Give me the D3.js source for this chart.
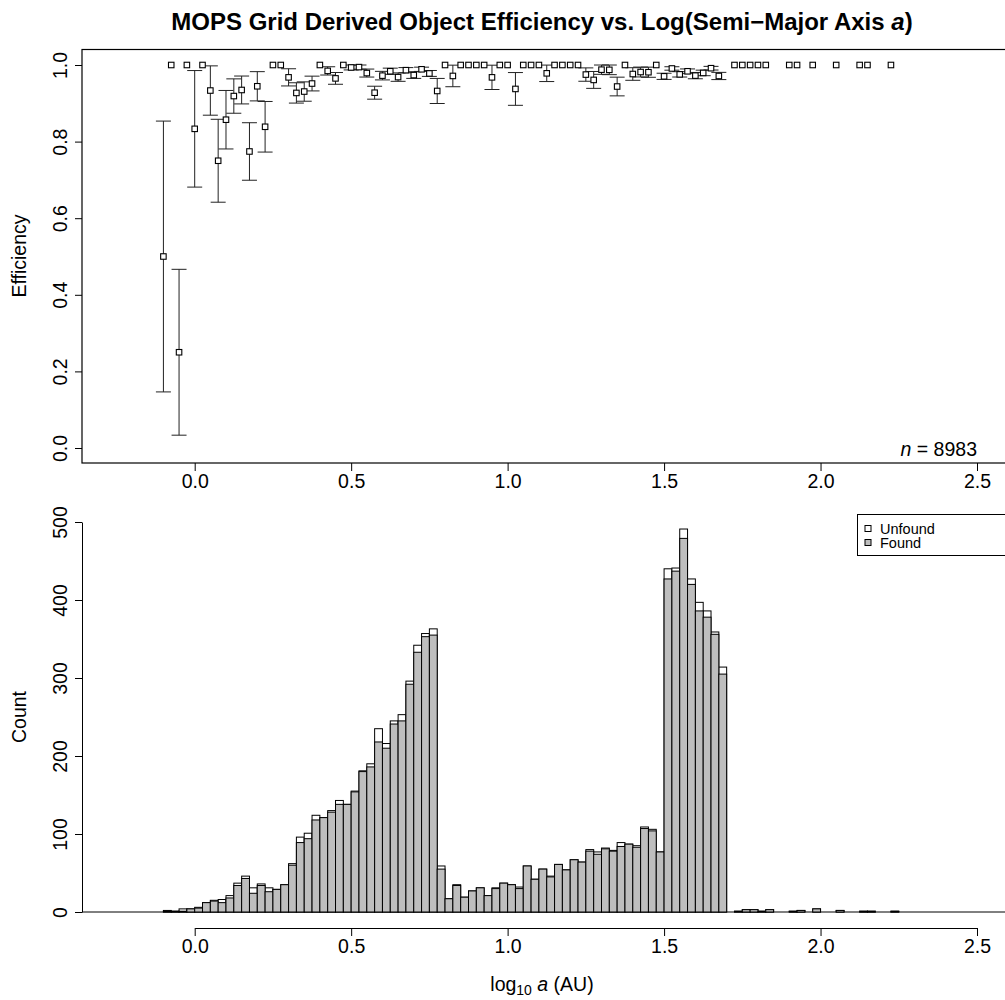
<!DOCTYPE html>
<html>
<head>
<meta charset="utf-8">
<script src="https://d3js.org/d3.v7.min.js"></script>
<style>
  body { margin: 0; background: #fff; }
  svg text { font-family: "Liberation Sans", Arial, Helvetica, sans-serif; fill: #000; }
</style>
</head>
<body>
<div id="chart"></div>
<script>
// histogram bins: log10 a from -0.1 in steps of 0.025
const binStart = -0.1;
const binWidth = 0.025;

// objects per bin (all)
const totalCounts = [2, 1, 4, 4, 6, 12, 15, 16, 21, 37, 46, 31, 36, 31, 29, 35, 62, 96, 101, 124, 121, 130, 143, 138, 155,
    181, 190, 235, 216, 245, 253, 296, 342, 357, 363, 59,
    17, 35, 19, 27, 31, 21, 31, 37, 35, 32, 59, 42, 55, 46, 61, 54, 67, 64, 80, 77, 82, 79, 89, 87, 85, 109, 106, 77,
    440, 441, 491, 427, 397, 386, 359, 314,
    0, 1, 3, 3, 1, 3, 0, 0, 1, 2, 0, 4, 0, 0, 2, 0, 0, 1, 1, 0, 0, 1];

// found objects per bin
const foundCounts = [1, 1, 1, 4, 5, 12, 14, 12, 18, 34, 43, 24, 34, 26, 29, 35, 60, 89, 94, 118, 121, 128, 138, 138, 154,
    180, 186, 218, 210, 241, 245, 292, 333, 353, 355, 55,
    17, 34, 19, 27, 31, 21, 30, 37, 35, 30, 59, 42, 55, 45, 61, 54, 67, 64, 78, 74, 81, 78, 84, 87, 83, 107, 104, 77,
    427, 437, 479, 420, 386, 378, 356, 305,
    0, 1, 3, 3, 1, 3, 0, 0, 1, 2, 0, 4, 0, 0, 2, 0, 0, 1, 1, 0, 0, 1];

const xTicks = [0, 0.5, 1.0, 1.5, 2.0, 2.5];
const effTicks = [0, 0.2, 0.4, 0.6, 0.8, 1.0];
const countTicks = [0, 100, 200, 300, 400, 500];
const legendLabels = ["Unfound", "Found"];
const nTotal = 8983;

const W = 1005, H = 1000;
const svg = d3.select("#chart").append("svg")
    .attr("width", W)
    .attr("height", H);

const x = d3.scaleLinear().domain([0, 2.5]).range([194.7, 977]);
const yEff = d3.scaleLinear().domain([0, 1]).range([448, 65]);
const yCnt = d3.scaleLinear().domain([0, 500]).range([912, 522]);

const bins = totalCounts.map((n, i) => ({
    x0: binStart + i * binWidth,
    x1: binStart + (i + 1) * binWidth,
    n: n,
    found: foundCounts[i]
}));

const fontTick = "19.5px";

// ---------- top panel: efficiency ----------
svg.append("rect")
    .attr("x", 82).attr("y", 49.5)
    .attr("width", 1000).attr("height", 413.5)
    .attr("fill", "none").attr("stroke", "#000").attr("stroke-width", 1.2);

const topX = svg.append("g")
    .attr("transform", "translate(0,463)")
    .call(d3.axisBottom(x).tickValues(xTicks).tickFormat(d3.format(".1f")).tickSize(8).tickSizeOuter(0));
topX.select(".domain").remove();
topX.selectAll(".tick text").style("font-size", fontTick).attr("y", 10).attr("dy", "0.75em");

const topY = svg.append("g")
    .attr("transform", "translate(82,0)")
    .call(d3.axisLeft(yEff).tickValues(effTicks).tickFormat(d3.format(".1f")).tickSize(7).tickSizeOuter(0));
topY.select(".domain").remove();
topY.selectAll(".tick text")
    .attr("x", null).attr("dy", null)
    .attr("text-anchor", "middle")
    .attr("transform", "translate(-15,0) rotate(-90)")
    .style("font-size", fontTick);

// efficiency = found / all, error bar = binomial standard error
const pts = bins.filter(d => d.n > 0).map(d => {
    const p = d.found / d.n;
    return { x: d.x0, p: p, err: Math.sqrt(p * (1 - p) / d.n) };
});

const eb = svg.append("g").attr("stroke", "#222").attr("stroke-width", 1);
pts.filter(d => d.err > 0).forEach(d => {
    const cx = x(d.x);
    eb.append("line").attr("x1", cx).attr("x2", cx)
        .attr("y1", yEff(d.p - d.err)).attr("y2", yEff(d.p + d.err));
    [d.p - d.err, d.p + d.err].forEach(v => {
        eb.append("line").attr("x1", cx - 7.5).attr("x2", cx + 7.5)
            .attr("y1", yEff(v)).attr("y2", yEff(v));
    });
});

svg.append("g").selectAll("rect")
    .data(pts)
    .join("rect")
    .attr("x", d => x(d.x) - 2.75)
    .attr("y", d => yEff(d.p) - 2.75)
    .attr("width", 5.5).attr("height", 5.5)
    .attr("fill", "#fff").attr("stroke", "#000").attr("stroke-width", 1.1);

const nText = svg.append("text")
    .attr("x", 977).attr("y", 456)
    .attr("text-anchor", "end")
    .style("font-size", fontTick);
nText.append("tspan").style("font-style", "italic").text("n");
nText.append("tspan").text(" = " + nTotal);

svg.append("text")
    .attr("transform", "translate(26,256) rotate(-90)")
    .attr("text-anchor", "middle")
    .style("font-size", fontTick)
    .text("Efficiency");

// ---------- bottom panel: histogram ----------
svg.append("line")
    .attr("x1", 82).attr("x2", 1005)
    .attr("y1", yCnt(0)).attr("y2", yCnt(0))
    .attr("stroke", "#000").attr("stroke-width", 1);

// all objects (white, shows the unfound part on top)
svg.append("g").selectAll("rect")
    .data(bins.filter(d => d.n > 0))
    .join("rect")
    .attr("x", d => x(d.x0))
    .attr("y", d => yCnt(d.n))
    .attr("width", d => x(d.x1) - x(d.x0))
    .attr("height", d => yCnt(0) - yCnt(d.n))
    .attr("fill", "#fff").attr("stroke", "#000").attr("stroke-width", 1);

// found objects (grey)
svg.append("g").selectAll("rect")
    .data(bins.filter(d => d.found > 0))
    .join("rect")
    .attr("x", d => x(d.x0))
    .attr("y", d => yCnt(d.found))
    .attr("width", d => x(d.x1) - x(d.x0))
    .attr("height", d => yCnt(0) - yCnt(d.found))
    .attr("fill", "#bebebe").attr("stroke", "#000").attr("stroke-width", 1);

const botX = svg.append("g")
    .attr("transform", "translate(0,928)")
    .call(d3.axisBottom(x).tickValues(xTicks).tickFormat(d3.format(".1f")).tickSize(8).tickSizeOuter(0));
botX.selectAll(".tick text").style("font-size", fontTick).attr("y", 10).attr("dy", "0.75em");

const botY = svg.append("g")
    .attr("transform", "translate(82,0)")
    .call(d3.axisLeft(yCnt).tickValues(countTicks).tickSize(7).tickSizeOuter(0));
botY.selectAll(".tick text")
    .attr("x", null).attr("dy", null)
    .attr("text-anchor", "middle")
    .attr("transform", "translate(-15,0) rotate(-90)")
    .style("font-size", fontTick);

svg.append("text")
    .attr("transform", "translate(26,717) rotate(-90)")
    .attr("text-anchor", "middle")
    .style("font-size", fontTick)
    .text("Count");

const xl = svg.append("text")
    .attr("x", 542).attr("y", 991)
    .attr("text-anchor", "middle")
    .style("font-size", fontTick);
xl.append("tspan").text("log");
xl.append("tspan").attr("dy", 4).style("font-size", "14px").text("10");
xl.append("tspan").attr("dy", -4).text(" ");
xl.append("tspan").style("font-style", "italic").text("a");
xl.append("tspan").text(" (AU)");

// legend
const lg = svg.append("g");
lg.append("rect")
    .attr("x", 857.5).attr("y", 514.5)
    .attr("width", 200).attr("height", 41)
    .attr("fill", "#fff").attr("stroke", "#000").attr("stroke-width", 1);
legendLabels.forEach((lab, i) => {
    const cy = 528.5 + i * 14;
    lg.append("rect")
        .attr("x", 865).attr("y", cy - 3)
        .attr("width", 6).attr("height", 6)
        .attr("fill", i === 0 ? "#fff" : "#bebebe")
        .attr("stroke", "#000").attr("stroke-width", 1);
    lg.append("text")
        .attr("x", 880).attr("y", cy + 5)
        .style("font-size", "14.5px")
        .text(lab);
});

// title
const tt = svg.append("text")
    .attr("x", 542).attr("y", 30)
    .attr("text-anchor", "middle")
    .style("font-size", "24px")
    .style("font-weight", "bold");
tt.append("tspan").text("MOPS Grid Derived Object Efficiency vs. Log(Semi\u2212Major Axis ");
tt.append("tspan").style("font-style", "italic").text("a");
tt.append("tspan").text(")");
</script>
</body>
</html>
